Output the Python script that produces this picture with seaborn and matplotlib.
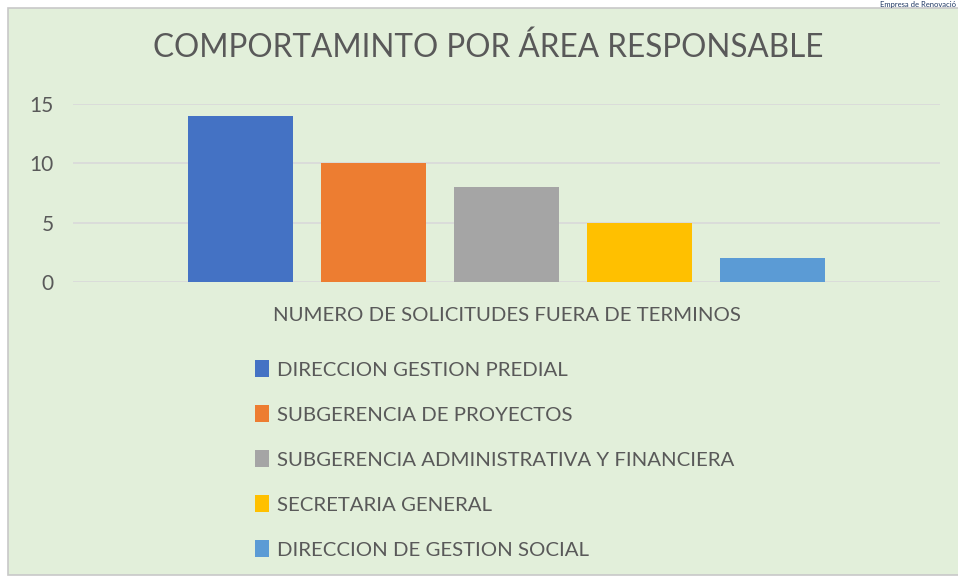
import pandas as pd
import seaborn as sns
import matplotlib.pyplot as plt
from matplotlib.patches import Rectangle

# data
category = ['NUMERO DE SOLICITUDES FUERA DE TERMINOS']
areas = ['DIRECCION GESTION PREDIAL', 'SUBGERENCIA DE PROYECTOS',
         'SUBGERENCIA ADMINISTRATIVA Y FINANCIERA', 'SECRETARIA GENERAL',
         'DIRECCION DE GESTION SOCIAL']
counts = [14, 10, 8, 5, 2]
colors = ['#4472C4', '#ED7D31', '#A5A5A5', '#FFC000', '#5B9BD5']

df = pd.DataFrame({'cat': category * len(areas), 'area': areas, 'n': counts})

sns.set_style('white')
plt.rcParams['font.family'] = ['Lato', 'DejaVu Sans']
txt = '#595959'
bg = '#E2EFDA'

fig = plt.figure(figsize=(9.58, 5.77), dpi=100)
fig.patch.set_facecolor('white')
# panel background with a grey frame line on the left / bottom
fig.patches.append(Rectangle((8/958, 2/577), 1, 1 - 10/577, transform=fig.transFigure,
                             facecolor=bg, edgecolor='#C8C8C8', lw=1.2, zorder=-1))
fig.text(0.998, 0.999, 'Empresa de Renovació', ha='right', va='top',
         fontsize=5.5, color='#1F3864')

ax = fig.add_axes([73/958, 1 - 282/577, (940 - 73)/958, (282 - 104)/577])
ax.set_facecolor(bg)
sns.barplot(data=df, x='cat', y='n', hue='area', palette=colors, ax=ax,
            width=0.767, gap=0.21, saturation=1, linewidth=0, legend=True)

ax.set_ylim(0, 15)
ax.set_yticks([0, 5, 10, 15])
ax.yaxis.grid(True, color='#D9D9D9', lw=1.2)
ax.set_axisbelow(True)
for s in ax.spines.values():
    s.set_visible(False)
ax.tick_params(axis='both', length=0, colors=txt, labelsize=15)
ax.tick_params(axis='y', pad=14)
ax.tick_params(axis='x', pad=18, labelsize=14.7)
ax.set_xlabel('')
ax.set_ylabel('')

ax.legend(loc='upper left', bbox_to_anchor=(247/958, 1 - 352/577),
          bbox_transform=fig.transFigure, frameon=False, ncol=1,
          fontsize=14.7, labelcolor=txt, handlelength=0.7, handleheight=0.9,
          handletextpad=0.35, labelspacing=1.3, borderaxespad=0)

fig.text(488/958, 1 - 48/577, 'COMPORTAMINTO POR ÁREA RESPONSABLE', ha='center',
         va='center', fontsize=22.7, color=txt)

fig.savefig('out.png', dpi=100)
